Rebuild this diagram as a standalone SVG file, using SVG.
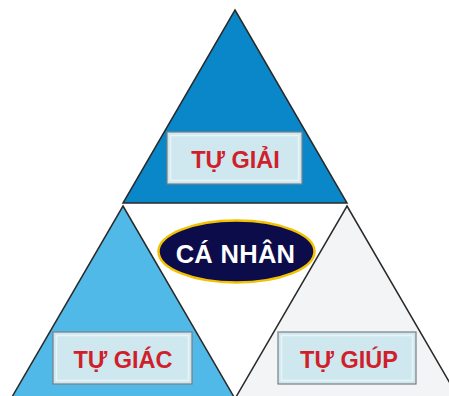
<svg xmlns="http://www.w3.org/2000/svg" width="449" height="396" viewBox="0 0 449 396">
  <style>
    .tri { stroke: #2a2a2a; stroke-width: 1.5; stroke-linejoin: miter; }
    .box { fill: #cfe7ee; stroke: #7a7f85; stroke-width: 1.2; }
    .inner { fill: none; stroke: #e8f5f8; stroke-width: 1.5; }
    .lbl { font-family: "Liberation Sans", Arial, sans-serif; font-weight: bold; font-size: 23.5px; fill: #d01f2b; text-anchor: middle; }
    .center { font-family: "Liberation Sans", Arial, sans-serif; font-weight: bold; font-size: 25.5px; fill: #ffffff; text-anchor: middle; letter-spacing: 0.3px; }
  </style>
  <rect x="0" y="0" width="449" height="396" fill="#ffffff"/>
  <g id="tu-giai">
    <polygon class="tri" points="235,10 347,203 123,203" fill="#0a87c9"/>
    <rect class="box" x="167" y="132" width="135" height="52"/>
    <rect class="inner" x="170.5" y="135.5" width="128" height="45"/>
    <text class="lbl" x="235.5" y="167.5">TỰ GIẢI</text>
  </g>
  <g id="tu-giac">
    <polygon class="tri" points="123,206 234,397 12,397" fill="#50b9e7"/>
    <rect class="box" x="53" y="332" width="139" height="52"/>
    <rect class="inner" x="56.5" y="335.5" width="132" height="45"/>
    <text class="lbl" x="123" y="368">TỰ GIÁC</text>
  </g>
  <g id="tu-giup">
    <polygon class="tri" points="347,206 458,397 236,397" fill="#f3f4f6"/>
    <rect class="box" x="278" y="332" width="138" height="52"/>
    <rect class="inner" x="281.5" y="335.5" width="131" height="45"/>
    <text class="lbl" x="349" y="368">TỰ GIÚP</text>
  </g>
  <g id="ca-nhan">
    <ellipse cx="236.5" cy="251.5" rx="78" ry="31" fill="#0c0c4a" stroke="#f2c200" stroke-width="2.5"/>
    <text class="center" x="235.5" y="263">CÁ NHÂN</text>
  </g>
  <g id="connectors"></g>
</svg>
